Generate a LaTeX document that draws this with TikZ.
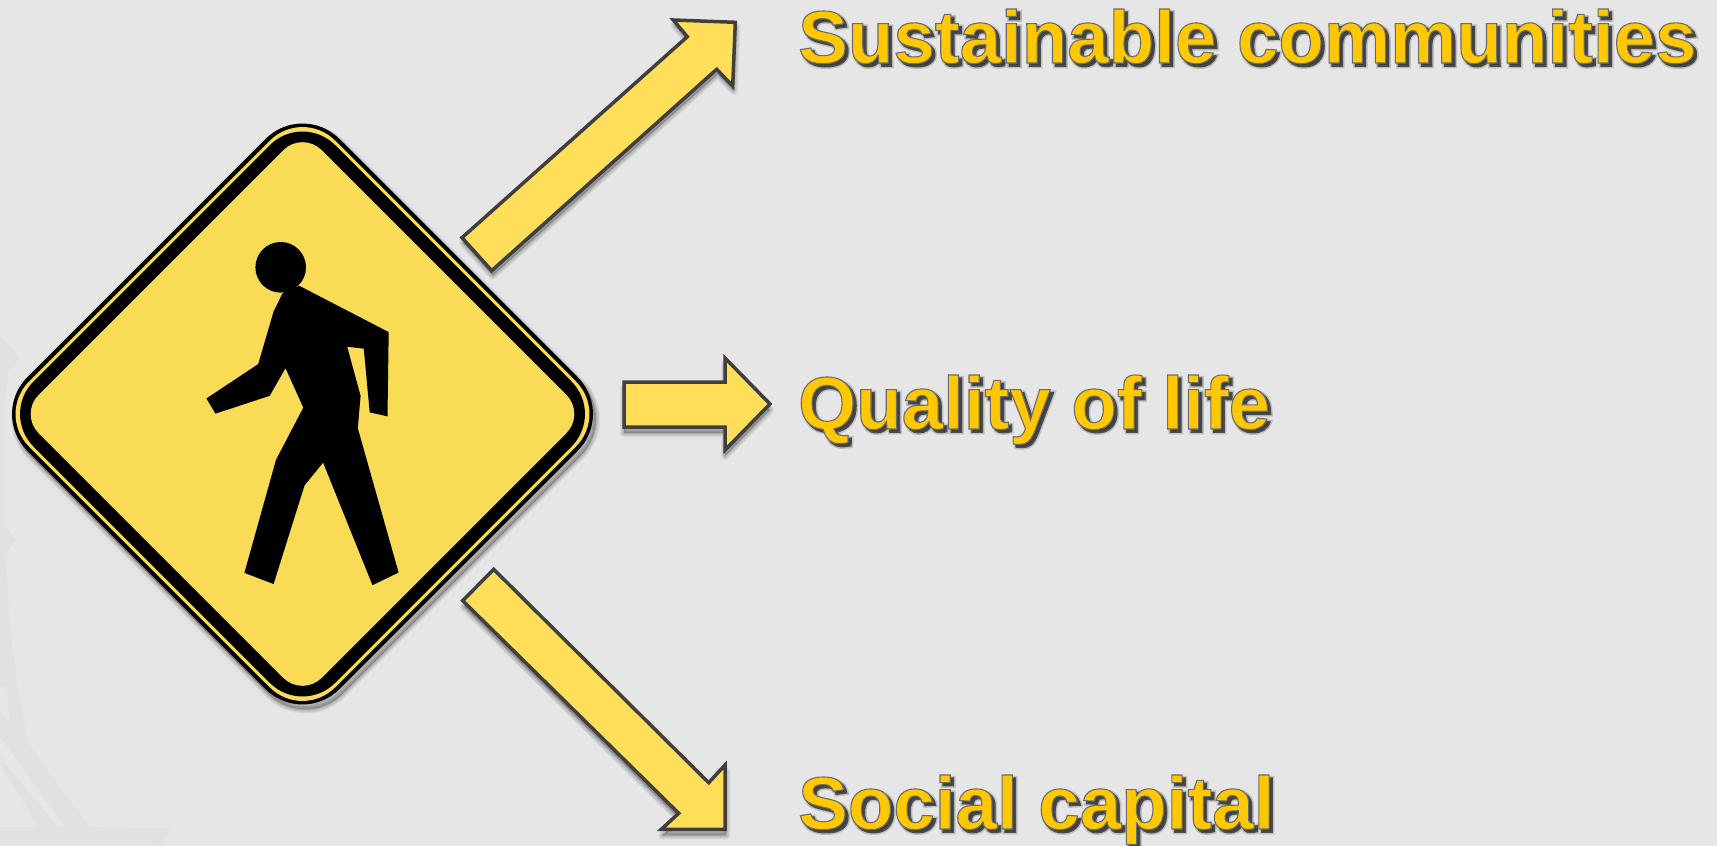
\documentclass[tikz,border=0pt]{standalone}
\usepackage{fontspec}
\setmainfont{Liberation Sans}
\definecolor{bgc}{HTML}{E6E6E6}
\definecolor{wmc}{HTML}{E0E2E2}
\definecolor{signy}{HTML}{F9DB55}
\definecolor{arrowy}{HTML}{FFDE59}
\definecolor{edgec}{HTML}{3F3F3F}
\definecolor{texty}{HTML}{FFC800}
\newcommand{\dia}[2]{(302.5-#1,414) [rounded corners=#2pt] -- (302.5,414-#1) -- (302.5+#1,414) -- (302.5,414+#1) -- cycle}
\newcommand{\softshadow}[2]{%
  \foreach \w in {8,6,4,2}{\fill[black,opacity=0.06,draw=black,line width=\w pt,line join=round,shift={(#1)}] #2;}}
\newcommand{\strokedtext}[3]{\special{pdf:code q #1 RG #2 w 2 Tr}#3\special{pdf:code 0 Tr Q}}
\newcommand{\labelbox}[1]{%
  \makebox[0pt][l]{\raisebox{-3pt}{\hspace{3pt}\textcolor{black!25}{\strokedtext{0.75 0.75 0.75}{4.5}{#1}}}}%
  \makebox[0pt][l]{\raisebox{-3pt}{\hspace{3pt}\textcolor{edgec}{\strokedtext{0.3 0.3 0.3}{1.5}{#1}}}}%
  \strokedtext{0.42 0.42 0.42}{1.1}{#1}}
\newcommand{\arrowA}{(462,237.7) -- (491.7,270.7) -- (716.7,69.3) -- (732.7,86) -- (735.3,22.3) -- (673.3,20) -- (687.3,36.7) -- cycle}
\newcommand{\arrowB}{(624,382) -- (725,382) -- (725,358) -- (770,404) -- (725,450) -- (725,427) -- (624,427) -- cycle}
\newcommand{\arrowC}{(493.7,569.3) -- (462.7,600.7) -- (678.7,813.3) -- (661.3,829.3) -- (725,829.3) -- (725,765) -- (708.7,782.7) -- cycle}
\tikzset{
  arrowshape/.style={fill=arrowy,draw=edgec,line width=3.5pt,line join=miter},
  labeltext/.style={anchor=base west,inner sep=0pt,font=\fontsize{74.5}{75}\selectfont\bfseries,text=texty},
}
\begin{document}
\begin{tikzpicture}[x=1pt,y=-1pt]
\useasboundingbox (0,0) rectangle (1717,846);
\fill[bgc] (0,0) rectangle (1717,846);
% watermark
\fill[wmc] (0,335) -- (9,345) -- (20,358) -- (8,372) -- (5,400) -- (5,525) -- (16,540) -- (5,555) -- (8,600) -- (13,650) -- (17,683) -- (28,743) -- (62,790) -- (90,827) -- (170,828) -- (160,846) -- (150,842) -- (0,842) -- cycle;
\fill[bgc] (0,687) -- (7,687) -- (10,723) -- (0,710) -- cycle;
\fill[bgc] (0,737) -- (65,827) -- (58,827) -- (0,757) -- cycle;
\fill[bgc] (0,765) -- (38,827) -- (0,827) -- cycle;
% sign
\softshadow{3,5}{\dia{312}{52}}
\fill[black] \dia{312}{52};
\fill[signy] \dia{306}{46};
\fill[black] \dia{301.5}{46};
\fill[signy] \dia{283}{27};
\fill[black] (280.7,267.3) circle (25.3);
\fill[black] (282.7,293) -- (273.6,311.5) -- (258.2,364.1) -- (206.4,398.5) -- (215.5,413.6) -- (269.7,395.8) -- (285.5,368.1) -- (303.3,407.6) -- (276,459.8) -- (244.4,572.9) -- (273.6,584) -- (304.5,485.5) -- (323.1,462.6) -- (372.5,585.2) -- (398.6,572.5) -- (357.8,428.2) -- (360.6,395.8) -- (347.2,346.7) -- (363.8,348.7) -- (369.7,412.4) -- (387.5,416.3) -- (388.7,332.1) -- (299.3,285.8) -- cycle;
% arrows
\softshadow{1,5}{\arrowA}
\softshadow{0,6}{\arrowB}
\softshadow{1,6}{\arrowC}
\draw[arrowshape] \arrowA;
\draw[arrowshape] \arrowB;
\draw[arrowshape] \arrowC;
% labels
\node[labeltext] (t1) at (798,63) {\labelbox{Sustainable communities}};
\node[labeltext] (t2) at (798,429) {\labelbox{Quality of life}};
\node[labeltext] (t3) at (798,829) {\labelbox{Social capital}};
\end{tikzpicture}
\end{document}
